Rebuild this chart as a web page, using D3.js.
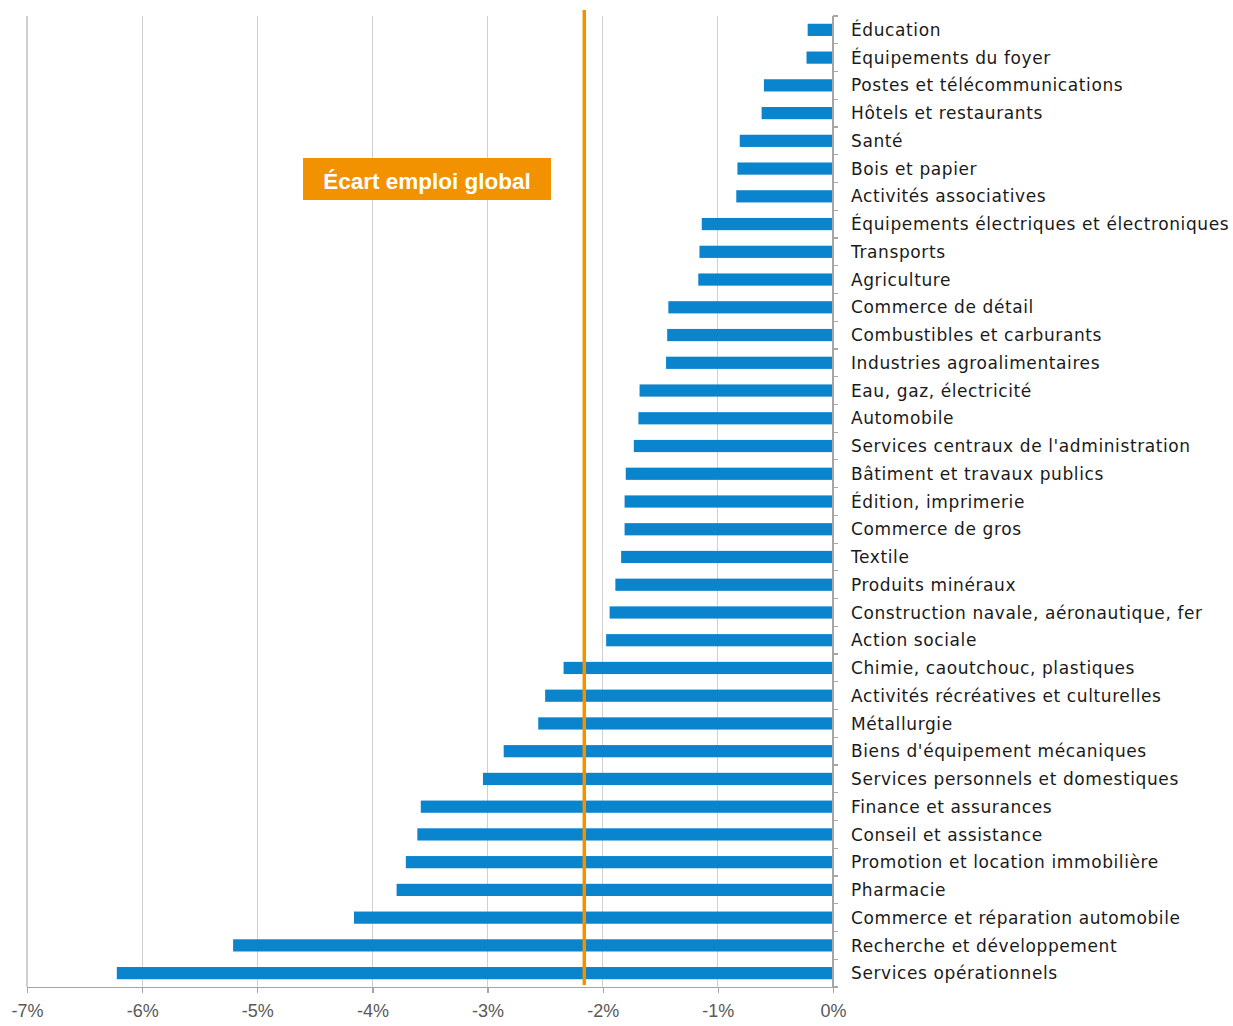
<!DOCTYPE html>
<html>
<head>
<meta charset="utf-8">
<script src="https://cdn.jsdelivr.net/npm/d3@7"></script>
<style>
	body { margin: 0; background: #fff; }
</style>
</head>
<body>
<svg id="chart"></svg>
<script>

var categories = [
	"Éducation", "Équipements du foyer", "Postes et télécommunications", "Hôtels et restaurants",
	"Santé", "Bois et papier", "Activités associatives", "Équipements électriques et électroniques",
	"Transports", "Agriculture", "Commerce de détail", "Combustibles et carburants",
	"Industries agroalimentaires", "Eau, gaz, électricité", "Automobile",
	"Services centraux de l'administration", "Bâtiment et travaux publics", "Édition, imprimerie",
	"Commerce de gros", "Textile", "Produits minéraux", "Construction navale, aéronautique, fer",
	"Action sociale", "Chimie, caoutchouc, plastiques", "Activités récréatives et culturelles",
	"Métallurgie", "Biens d'équipement mécaniques", "Services personnels et domestiques",
	"Finance et assurances", "Conseil et assistance", "Promotion et location immobilière",
	"Pharmacie", "Commerce et réparation automobile", "Recherche et développement",
	"Services opérationnels"
];

var values = [
	-0.22, -0.23, -0.60, -0.62, -0.81, -0.83, -0.84, -1.14, -1.16, -1.17,
	-1.43, -1.44, -1.45, -1.68, -1.69, -1.73, -1.80, -1.81, -1.81, -1.84,
	-1.89, -1.94, -1.97, -2.34, -2.50, -2.56, -2.86, -3.04, -3.58, -3.61,
	-3.71, -3.79, -4.16, -5.21, -6.22
];

var xTicks = [-7, -6, -5, -4, -3, -2, -1, 0];

var globalGap = -2.16;
var globalLabel = "Écart emploi global";

var width = 1233,
	height = 1026;

var svg = d3.select("#chart")
	.attr("width", width)
	.attr("height", height);

var x = d3.scaleLinear()
	.domain([-7, 0])
	.range([27, 833]);

var y = d3.scaleBand()
	.domain(categories)
	.range([16, 987])
	.paddingInner(0.56)
	.paddingOuter(0.28);

// gridlines
svg.append("g")
	.selectAll("line")
	.data(xTicks.filter(function(d) { return d != 0; }))
	.enter().append("line")
	.attr("x1", function(d) { return x(d); })
	.attr("x2", function(d) { return x(d); })
	.attr("y1", 16)
	.attr("y2", 987)
	.style("stroke", "#d0d0d0")
	.style("stroke-width", 1.2)
	.style("shape-rendering", "crispEdges");

// bars
svg.append("g")
	.selectAll("rect")
	.data(values)
	.enter().append("rect")
	.attr("x", function(d) { return x(d); })
	.attr("y", function(d, i) { return y(categories[i]); })
	.attr("width", function(d) { return x(0) - x(d); })
	.attr("height", y.bandwidth())
	.style("fill", "#0a84cc");

// x axis
var xAxis = d3.axisBottom(x)
	.tickValues(xTicks)
	.tickSize(6)
	.tickPadding(11)
	.tickFormat(function(d) { return d + "%"; });

svg.append("g")
	.attr("class", "x axis")
	.attr("transform", "translate(0,987)")
	.call(xAxis);

// y axis, ticks at the band boundaries
var bounds = d3.range(categories.length + 1).map(function(i) { return 16 + i * (971 / categories.length); });

var yAxis = svg.append("g").attr("class", "y axis");
yAxis.append("line")
	.attr("x1", x(0)).attr("x2", x(0))
	.attr("y1", 16).attr("y2", 987);
yAxis.selectAll("line.tick")
	.data(bounds)
	.enter().append("line")
	.attr("class", "tick")
	.attr("x1", x(0)).attr("x2", x(0) + 5)
	.attr("y1", function(d) { return d; })
	.attr("y2", function(d) { return d; });

d3.selectAll(".x.axis line, .x.axis path, .y.axis line")
	.style("stroke", "#a6a6a6")
	.style("stroke-width", 1.2)
	.style("fill", "none")
	.style("shape-rendering", "crispEdges");

d3.selectAll(".x.axis text")
	.style("font-family", "'Liberation Sans', Arial, sans-serif")
	.style("font-size", "18px")
	.style("fill", "#595959");

// category labels
svg.append("g")
	.selectAll("text")
	.data(categories)
	.enter().append("text")
	.attr("x", 851)
	.attr("y", function(d) { return y(d) + y.bandwidth() / 2; })
	.attr("dy", "0.36em")
	.style("font-family", "'DejaVu Sans', Verdana, sans-serif")
	.style("font-size", "17px")
	.style("letter-spacing", "0.6px")
	.style("fill", "#1a1a1a")
	.text(function(d) { return d; });

// global gap line
svg.append("line")
	.attr("x1", x(globalGap)).attr("x2", x(globalGap))
	.attr("y1", 10).attr("y2", 985)
	.style("stroke", "#f39200")
	.style("stroke-width", 3.5);

// annotation box
var note = svg.append("g");
note.append("rect")
	.attr("x", 303).attr("y", 158)
	.attr("width", 248).attr("height", 42)
	.style("fill", "#f39200");
note.append("text")
	.attr("x", 303 + 124).attr("y", 189)
	.attr("text-anchor", "middle")
	.style("font-family", "'Liberation Sans', Arial, sans-serif")
	.style("font-weight", "bold")
	.style("font-size", "22.5px")
	.style("fill", "#fff")
	.text(globalLabel);

</script>
</body>
</html>
